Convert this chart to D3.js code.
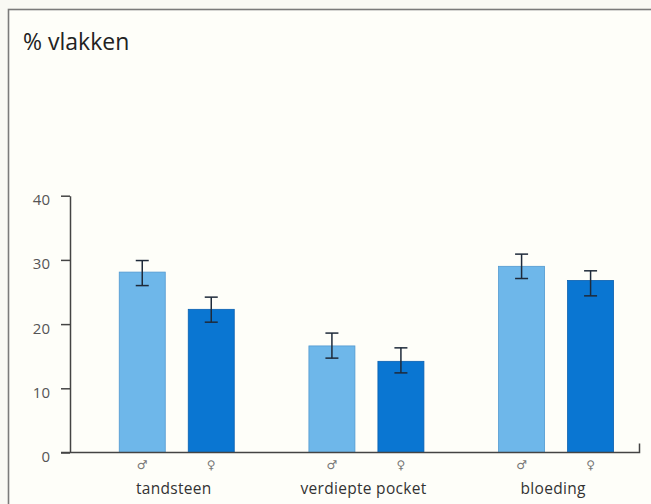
<!DOCTYPE html>
<html>
<head>
<meta charset="utf-8">
<script src="https://cdn.jsdelivr.net/npm/d3@7/dist/d3.min.js"></script>
<style>
  html, body { margin: 0; padding: 0; background: #f9f9f4; }
  svg { display: block; }
  text { font-family: "Open Sans", "DejaVu Sans", sans-serif; }
</style>
</head>
<body>
<svg id="chart" width="651" height="504"></svg>
<script>
// Categories and sexes
const categories = ["tandsteen", "verdiepte pocket", "bloeding"];
const sexes = ["m", "f"];
const sexSymbols = { m: "\u2642", f: "\u2640" };

// Mean percentage of surfaces, per category, men and women
const valuesMen   = [28.1, 16.6, 29.0];
const valuesWomen = [22.3, 14.2, 26.8];

// Error bar limits (lower, upper)
const lowMen    = [26.0, 14.7, 27.1];
const highMen   = [29.9, 18.6, 30.9];
const lowWomen  = [20.3, 12.4, 24.4];
const highWomen = [24.2, 16.3, 28.3];

const yTicks = [0, 10, 20, 30, 40];
const title = "% vlakken";

const rows = [];
categories.forEach((c, i) => {
  rows.push({ cat: c, sex: "m", value: valuesMen[i],   lo: lowMen[i],   hi: highMen[i] });
  rows.push({ cat: c, sex: "f", value: valuesWomen[i], lo: lowWomen[i], hi: highWomen[i] });
});

const svg = d3.select("#chart");

// Frame of the figure
svg.append("rect")
  .attr("x", 8.5).attr("y", 9.5)
  .attr("width", 700).attr("height", 600)
  .attr("fill", "#fefef9")
  .attr("stroke", "#7a7a7a")
  .attr("stroke-width", 1.6);

svg.append("text")
  .attr("x", 23).attr("y", 50)
  .attr("font-size", 23)
  .attr("fill", "#222")
  .text(title);

const y = d3.scaleLinear().domain([0, 40]).range([452.5, 195.7]);
const x0 = d3.scaleBand().domain(categories).range([82, 651]).paddingInner(0).paddingOuter(0);
const x1 = d3.scaleBand().domain(sexes).range([25.75, 163.75]).paddingInner(1 / 3).paddingOuter(1 / 6);

const colors = { m: "#6eb7ea", f: "#0a76d2" };
const strokes = { m: "#5299d0", f: "#0a60b0" };

// Y axis
const yAxis = d3.axisLeft(y).tickValues(yTicks).tickSize(9).tickPadding(11).tickSizeOuter(0);
const gy = svg.append("g").attr("transform", "translate(70,0)").call(yAxis);
gy.select(".domain").attr("stroke", "#444").attr("stroke-width", 1.5);
gy.selectAll(".tick line").attr("stroke", "#444").attr("stroke-width", 1.5);
gy.selectAll(".tick text")
  .attr("font-size", 15)
  .attr("fill", "#555")
  .attr("dy", "0.6em")
  .style("font-family", "'Open Sans', 'DejaVu Sans', sans-serif");

// Bars
const barG = svg.append("g");
barG.selectAll("rect.bar")
  .data(rows)
  .join("rect")
  .attr("class", "bar")
  .attr("x", d => x0(d.cat) + x1(d.sex))
  .attr("y", d => y(d.value))
  .attr("width", x1.bandwidth())
  .attr("height", d => y(0) - y(d.value))
  .attr("fill", d => colors[d.sex])
  .attr("stroke", d => strokes[d.sex])
  .attr("stroke-width", 0.8);

// Error bars
const capW = 13;
const errG = barG.selectAll("g.err")
  .data(rows)
  .join("g")
  .attr("class", "err")
  .attr("transform", d => `translate(${x0(d.cat) + x1(d.sex) + x1.bandwidth() / 2},0)`)
  .attr("stroke", "#1e2a3a")
  .attr("stroke-width", 1.5);
errG.append("line").attr("x1", 0).attr("x2", 0).attr("y1", d => y(d.lo)).attr("y2", d => y(d.hi));
errG.append("line").attr("x1", -capW / 2).attr("x2", capW / 2).attr("y1", d => y(d.hi)).attr("y2", d => y(d.hi));
errG.append("line").attr("x1", -capW / 2).attr("x2", capW / 2).attr("y1", d => y(d.lo)).attr("y2", d => y(d.lo));

// X axis baseline with a closing tick at the right end
svg.append("path")
  .attr("d", `M61,${y(0)}H639.5V${y(0) - 9}`)
  .attr("fill", "none")
  .attr("stroke", "#444")
  .attr("stroke-width", 1.5);

// Sex symbols under each bar
svg.append("g").selectAll("text")
  .data(rows)
  .join("text")
  .attr("x", d => x0(d.cat) + x1(d.sex) + x1.bandwidth() / 2)
  .attr("y", 469)
  .attr("text-anchor", "middle")
  .attr("font-size", 12)
  .attr("fill", "#777")
  .text(d => sexSymbols[d.sex]);

// Category labels
svg.append("g").selectAll("text")
  .data(categories)
  .join("text")
  .attr("x", d => x0(d) + x0.bandwidth() / 2 - 3)
  .attr("y", 494)
  .attr("text-anchor", "middle")
  .attr("font-size", 15.5)
  .attr("letter-spacing", 0.3)
  .attr("fill", "#333")
  .text(d => d);
</script>
</body>
</html>
